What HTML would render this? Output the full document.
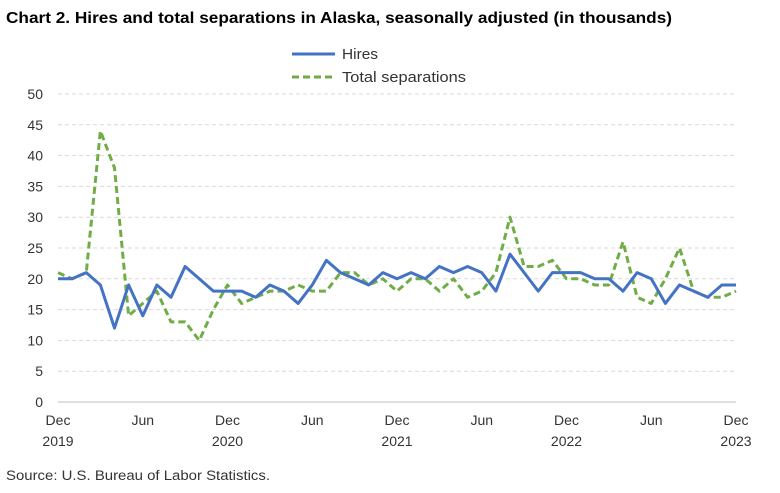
<!DOCTYPE html>
<html><head><meta charset="utf-8"><style>
body{margin:0;background:#fff;font-family:"Liberation Sans",Arial,sans-serif}
svg text{font-family:"Liberation Sans",Arial,sans-serif}
</style></head><body>
<svg id="c" width="780" height="488" viewBox="0 0 780 488">
<text x="6" y="23" font-size="16" font-weight="bold" fill="#000" textLength="666" lengthAdjust="spacingAndGlyphs">Chart 2. Hires and total separations in Alaska, seasonally adjusted (in thousands)</text>
<g>
<line x1="292" y1="54" x2="335" y2="54" stroke="#4472c4" stroke-width="3"/>
<text x="342" y="59" font-size="14.5" fill="#333" textLength="36" lengthAdjust="spacingAndGlyphs">Hires</text>
<line x1="292" y1="77" x2="335" y2="77" stroke="#70ad47" stroke-width="3" stroke-dasharray="7,4"/>
<text x="342" y="82" font-size="14.5" fill="#333" textLength="124" lengthAdjust="spacingAndGlyphs">Total separations</text>
</g>
<g id="grid"></g><g id="axes"></g><g id="series"></g>
<text x="6" y="480" font-size="13.5" fill="#333" textLength="264" lengthAdjust="spacingAndGlyphs">Source: U.S. Bureau of Labor Statistics.</text>
</svg>
<script>
const hires=[20,20,21,19,12,19,14,19,17,22,20,18,18,18,17,19,18,16,19,23,21,20,19,21,20,21,20,22,21,22,21,18,24,21,18,21,21,21,20,20,18,21,20,16,19,18,17,19,19];
const separations=[21,20,21,44,38,14,16,18,13,13,10,15,19,16,17,18,18,19,18,18,21,21,19,20,18,20,20,18,20,17,18,21,30,22,22,23,20,20,19,19,26,17,16,20,25,18,17,17,18];
const yTicks=[0,5,10,15,20,25,30,35,40,45,50];
const xLabels=[[0,"Dec","2019"],[6,"Jun",""],[12,"Dec","2020"],[18,"Jun",""],[24,"Dec","2021"],[30,"Jun",""],[36,"Dec","2022"],[42,"Jun",""],[48,"Dec","2023"]];
const NS="http://www.w3.org/2000/svg";
const X0=58,X1=736,Y0=402,Y1=94;
const xs=i=>X0+(X1-X0)*i/48, ys=v=>Y0-(Y0-Y1)*v/50;
function mk(t,a,p){const e=document.createElementNS(NS,t);for(const k in a)e.setAttribute(k,a[k]);p.appendChild(e);return e;}
const g=document.getElementById('grid'),ax=document.getElementById('axes'),s=document.getElementById('series');
yTicks.forEach(v=>{
 const l=mk('line',{x1:X0,x2:X1,y1:ys(v),y2:ys(v),stroke:v===0?'#bfbfbf':'#d9d9d9','stroke-dasharray':v===0?'':'4,3'},g);
 
 
 const t=mk('text',{x:43,y:ys(v)+5,'font-size':14,fill:'#333','text-anchor':'end'},ax);t.textContent=v;
 
 
});
xLabels.forEach(([i,m,y])=>{
 const t=mk('text',{x:xs(i),y:425,'font-size':14,fill:'#333','text-anchor':'middle'},ax);t.textContent=m;
 
 
 if(y){const t2=mk('text',{x:xs(i),y:446,'font-size':14,fill:'#333','text-anchor':'middle'},ax);t2.textContent=y;
 
 }
});
function line(d,c,dash,name){
 const p=mk('polyline',{points:d.map((v,i)=>xs(i)+','+ys(v)).join(' '),fill:'none',stroke:c,'stroke-width':3,'stroke-linejoin':'round','stroke-dasharray':dash},s);
 
 
}
line(separations,'#70ad47','7,4','separations-line');
line(hires,'#4472c4','','hires-line');
</script>
</body></html>
